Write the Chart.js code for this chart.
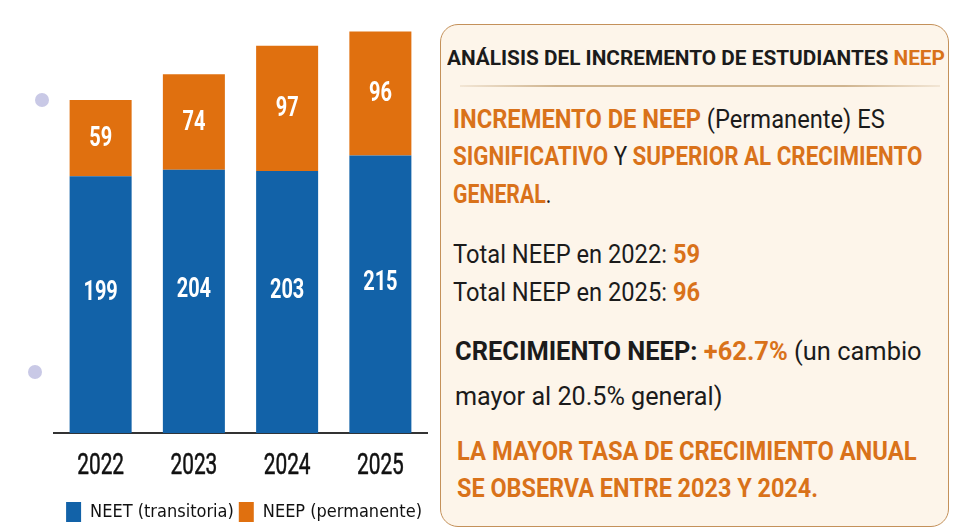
<!DOCTYPE html>
<html>
<head>
<meta charset="utf-8">
<script src="https://cdn.jsdelivr.net/npm/chart.js@4"></script>
<style>
  html,body{margin:0;padding:0;background:#ffffff;}
  body{width:955px;height:532px;position:relative;overflow:hidden;font-family:Roboto,"DejaVu Sans Condensed",sans-serif;}
  #chartWrap{position:absolute;left:0;top:0;width:440px;height:532px;}
  .dot{position:absolute;width:14px;height:14px;border-radius:50%;background:#c9c9e6;}
  #panel{position:absolute;left:440px;top:24px;width:509px;height:503px;box-sizing:border-box;
         border:1.5px solid #c4915a;border-radius:18px;background:#fdf5ea;}
  .ln{position:absolute;white-space:nowrap;color:#1b1b1b;transform-origin:0 50%;}
  .o{color:#d9721a;font-weight:bold;}
  .b{font-weight:bold;}
  .t{font-size:21px;line-height:26px;font-weight:bold;}
  .m{font-size:26px;line-height:30px;}
  #rule{position:absolute;left:19px;top:60px;width:480px;height:1.5px;
        background:linear-gradient(90deg,rgba(200,170,130,0.2),#cfb48f 20%,#cfb48f 80%,rgba(200,170,130,0.2));}
</style>
</head>
<body>
<div class="dot" style="left:35px;top:93px;"></div>
<div class="dot" style="left:28px;top:365px;"></div>
<div id="chartWrap"><canvas id="c" width="440" height="532"></canvas></div>
<div id="panel">
  <div class="ln t" data-w="498" style="left:5.5px;top:19.5px;">ANÁLISIS DEL INCREMENTO DE ESTUDIANTES <span class="o">NEEP</span></div>
  <div id="rule"></div>
  <div class="ln m" data-w="432" style="left:11.5px;top:78.5px;"><span class="o">INCREMENTO DE NEEP</span> (Permanente) ES</div>
  <div class="ln m" data-w="469" style="left:11.5px;top:115.5px;"><span class="o">SIGNIFICATIVO</span> Y <span class="o">SUPERIOR AL CRECIMIENTO</span></div>
  <div class="ln m" data-w="98" style="left:11.5px;top:153.5px;"><span class="o">GENERAL</span>.</div>
  <div class="ln m" data-w="247" style="left:11.5px;top:213.5px;">Total NEEP en 2022: <span class="o">59</span></div>
  <div class="ln m" data-w="247" style="left:11.5px;top:251.5px;">Total NEEP en 2025: <span class="o">96</span></div>
  <div class="ln m" data-w="467" style="left:13.5px;top:310.5px;"><span class="b">CRECIMIENTO NEEP:</span> <span class="o">+62.7%</span> (un cambio</div>
  <div class="ln m" data-w="267" style="left:13.5px;top:355.5px;">mayor al 20.5% general)</div>
  <div class="ln m o" data-w="460" style="left:15.5px;top:410.5px;">LA MAYOR TASA DE CRECIMIENTO ANUAL</div>
  <div class="ln m o" data-w="361" style="left:15.5px;top:447.5px;">SE OBSERVA ENTRE 2023 Y 2024.</div>
</div>
<script>
const years = ['2022', '2023', '2024', '2025'];
const neet = [199, 204, 203, 215];
const neep = [59, 74, 97, 96];
const seriesNames = ['NEET (transitoria)', 'NEEP (permanente)'];

const LABEL_FONT = 'Roboto, "DejaVu Sans Condensed", sans-serif';
const LEGEND_FONT = '"DejaVu Sans Condensed", sans-serif';
const BLUE = '#1262a8';
const ORANGE = '#e0700f';

// fit panel lines to their widths (condensed look)
document.querySelectorAll('.ln[data-w]').forEach(el => {
  const w = el.offsetWidth;
  const target = parseFloat(el.dataset.w);
  if (w > 0) el.style.transform = 'scaleX(' + (target / w).toFixed(4) + ')';
});

function squashText(ctx, text, x, y, sx, stroke) {
  ctx.save();
  ctx.translate(x, y);
  ctx.scale(sx, 1);
  ctx.fillText(text, 0, 0);
  if (stroke) { ctx.lineWidth = stroke; ctx.strokeText(text, 0, 0); }
  ctx.restore();
}

const valueLabels = {
  id: 'valueLabels',
  afterDatasetsDraw(chart) {
    const ctx = chart.ctx;
    ctx.save();
    ctx.fillStyle = '#ffffff';
    ctx.font = 'bold 27px ' + LABEL_FONT;
    ctx.textAlign = 'center';
    ctx.textBaseline = 'middle';
    chart.data.datasets.forEach((ds, di) => {
      const meta = chart.getDatasetMeta(di);
      meta.data.forEach((el, i) => {
        const p = el.getProps(['x', 'y', 'base'], true);
        let cy = (p.y + p.base) / 2;
        if (di === 0) cy -= 12;
        squashText(ctx, String(ds.data[i]), p.x, cy + 1, 0.74, 0);
      });
    });
    ctx.restore();
  },
  afterDraw(chart) {
    const ctx = chart.ctx;
    const xs = chart.scales.x;
    ctx.save();
    ctx.fillStyle = '#111111';
    ctx.strokeStyle = '#111111';
    ctx.font = '29px ' + LABEL_FONT;
    ctx.textAlign = 'center';
    ctx.textBaseline = 'middle';
    chart.data.labels.forEach((lab, i) => {
      squashText(ctx, lab, xs.getPixelForTick(i), xs.top + 34, 0.72, 0.5);
    });
    ctx.restore();
  }
};

new Chart(document.getElementById('c'), {
  type: 'bar',
  data: {
    labels: years,
    datasets: [
      { label: seriesNames[0], data: neet, backgroundColor: BLUE, borderWidth: 0 },
      { label: seriesNames[1], data: neep, backgroundColor: ORANGE, borderWidth: 0 }
    ]
  },
  options: {
    responsive: false,
    animation: false,
    devicePixelRatio: 1,
    layout: { padding: { left: 54, right: 13, top: 7, bottom: 0 } },
    datasets: { bar: { barPercentage: 0.665, categoryPercentage: 1 } },
    scales: {
      x: {
        stacked: true,
        grid: { display: false, drawTicks: false },
        border: { display: true, color: '#333333', width: 2 },
        ticks: { color: 'rgba(0,0,0,0)', font: { family: LABEL_FONT, size: 29 }, padding: 14.5 }
      },
      y: { stacked: true, display: false, min: 0, max: 330 }
    },
    plugins: {
      legend: {
        position: 'bottom',
        align: 'end',
        labels: {
          color: '#111111',
          font: { family: LEGEND_FONT, size: 18 },
          boxWidth: 15, boxHeight: 20, padding: 5
        }
      },
      tooltip: { enabled: false }
    }
  },
  plugins: [valueLabels]
});
</script>
</body>
</html>
